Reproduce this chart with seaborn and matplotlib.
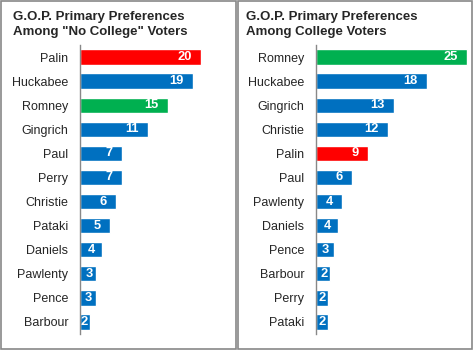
import numpy as np
import pandas as pd
import matplotlib.pyplot as plt
import seaborn as sns
from matplotlib.patches import Rectangle

sns.set_style("white")
plt.rcParams['font.family'] = ['Liberation Sans', 'DejaVu Sans']

# No college voters (bar lengths as measured, labels as printed)
nc_names = ['Palin', 'Huckabee', 'Romney', 'Gingrich', 'Paul', 'Perry',
            'Christie', 'Pataki', 'Daniels', 'Pawlenty', 'Pence', 'Barbour']
nc_values = [20.2, 18.8, 14.6, 11.3, 7.0, 7.0, 6.0, 5.0, 3.6, 2.7, 2.6, 1.7]
nc_labels = [20, 19, 15, 11, 7, 7, 6, 5, 4, 3, 3, 2]

# College voters
c_names = ['Romney', 'Huckabee', 'Gingrich', 'Christie', 'Palin', 'Paul',
           'Pawlenty', 'Daniels', 'Pence', 'Barbour', 'Perry', 'Pataki']
c_values = [25.2, 18.5, 13.0, 12.0, 8.7, 6.0, 4.3, 3.6, 3.0, 2.3, 2.0, 2.0]
c_labels = [25, 18, 13, 12, 9, 6, 4, 4, 3, 2, 2, 2]

title_lines = [['G.O.P. Primary Preferences', 'Among "No College" Voters'],
               ['G.O.P. Primary Preferences', 'Among College Voters']]

highlight = {'Palin': '#FF0000', 'Romney': '#00B050'}
base_color = '#0070C0'

fig = plt.figure(figsize=(4.74, 3.51), dpi=100)
W, H = 474, 351
PX = 6.0  # pixels per percentage point

# panel borders
for x0, x1 in [(1, 236), (238, 472)]:
    fig.patches.append(Rectangle((x0 / W, 2 / H), (x1 - x0) / W, (H - 3) / H,
                                 transform=fig.transFigure, fill=False,
                                 edgecolor='#888888', linewidth=1.2))

panels = [(nc_names, nc_values, nc_labels, 80, 13),
          (c_names, c_values, c_labels, 316, 246)]
for i, (names, vals, labels, ax_x, title_x) in enumerate(panels):
    ax = fig.add_axes([ax_x / W, (H - 334) / H, 153 / W, 289 / H])
    df = pd.DataFrame({'name': names, 'value': vals})
    colors = [highlight.get(n, base_color) for n in names]
    sns.barplot(data=df, x='value', y='name', hue='name', palette=colors,
                legend=False, width=0.64, ax=ax, saturation=1)
    ax.set_xlim(0, 153 / PX)
    ax.set_ylim(len(names) - 0.5, -0.5)
    ax.set_xlabel('')
    ax.set_ylabel('')
    ax.set_xticks([])
    for s in ['top', 'right', 'bottom']:
        ax.spines[s].set_visible(False)
    ax.spines['left'].set_color('#888888')
    ax.spines['left'].set_linewidth(1)
    ax.set_yticks(np.arange(len(names)))
    ax.set_yticklabels(names, fontsize=9)
    ax.set_yticks(np.arange(len(names) + 1) - 0.5, minor=True)
    ax.tick_params(axis='y', which='major', length=0, pad=8.5)
    ax.tick_params(axis='y', which='minor', length=3.5, color='#888888',
                   width=1, direction='out')
    for j, (v, lab) in enumerate(zip(vals, labels)):
        gap_px = min(9, max(2, (v * PX - 10) * 0.6))
        ax.text(v - gap_px / PX, j, str(lab), ha='right', va='center',
                color='white', fontsize=9.3, fontweight='bold')
    for k, line in enumerate(title_lines[i]):
        fig.text(title_x / W, 1 - (20 + 15 * k) / H, line, ha='left',
                 va='baseline', fontsize=9.5, fontweight='bold')

fig.savefig('out.png', dpi=100)
